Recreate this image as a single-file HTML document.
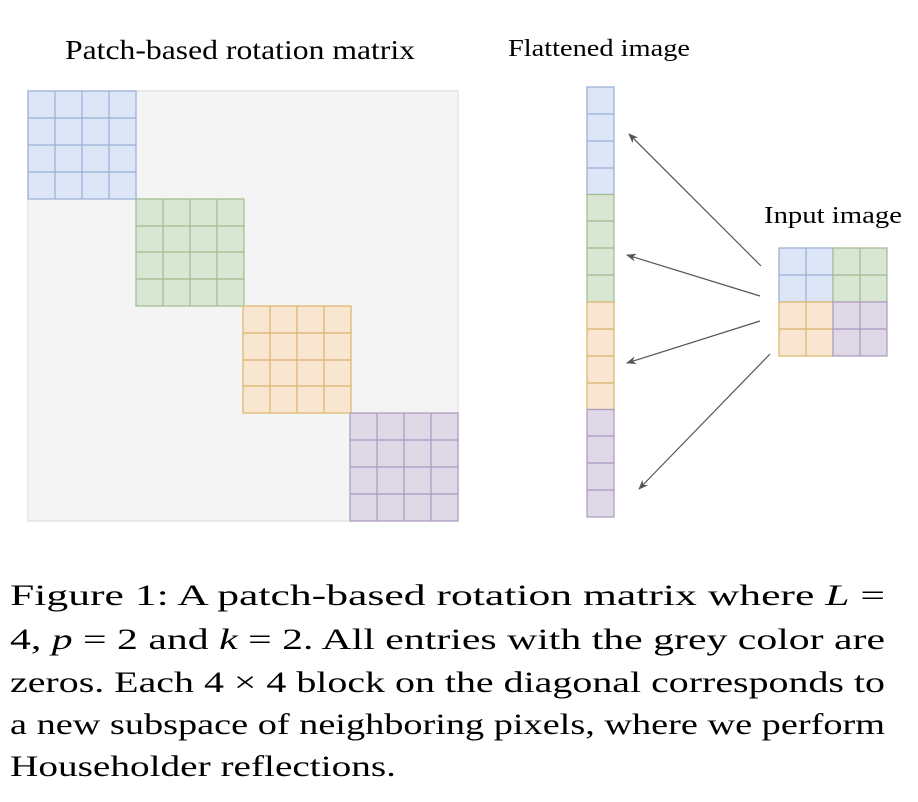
<!DOCTYPE html>
<html><head><meta charset="utf-8"><style>
html,body{margin:0;padding:0;background:#fff;}
svg{display:block;}
text{font-family:"Liberation Serif",serif;fill:#000;}
</style></head><body>
<svg width="918" height="802" viewBox="0 0 918 802" xmlns="http://www.w3.org/2000/svg">
<defs>
<marker id="ah" markerWidth="10" markerHeight="8" refX="9" refY="4" orient="auto" markerUnits="userSpaceOnUse">
<path d="M0,0 L10,4 L0,8 L3,4 z" fill="#555"/>
</marker>
</defs>
<text x="65" y="59" font-size="27" textLength="350" lengthAdjust="spacingAndGlyphs">Patch-based rotation matrix</text>
<text x="508" y="56" font-size="24" textLength="182" lengthAdjust="spacingAndGlyphs">Flattened image</text>
<text x="764" y="223" font-size="24" textLength="138" lengthAdjust="spacingAndGlyphs">Input image</text>
<rect x="28" y="91" width="430" height="430" fill="#f4f4f4" stroke="#e3e3e3" stroke-width="1.5"/>
<g stroke-width="1.2">
<g fill="#dce6f7" stroke="#9aaed6">
<rect x="28" y="91" width="108" height="108"/>
<path d="M55 91V199M82 91V199M109 91V199M28 118H136M28 145H136M28 172H136"/>
</g>
<g fill="#dae6d4" stroke="#9fbb8e">
<rect x="136" y="199" width="108" height="107"/>
<path d="M163 199V306M190 199V306M217 199V306M136 226H244M136 252H244M136 279H244"/>
</g>
<g fill="#f8e6d1" stroke="#dcb46a">
<rect x="243" y="306" width="108" height="107"/>
<path d="M270 306V413M297 306V413M324 306V413M243 333H351M243 360H351M243 386H351"/>
</g>
<g fill="#dfd8e6" stroke="#a999c0">
<rect x="350" y="413" width="108" height="108"/>
<path d="M377 413V521M404 413V521M431 413V521M350 440H458M350 467H458M350 494H458"/>
</g>
<g fill="#dce6f7" stroke="#9aaed6"><rect x="587" y="87" width="27" height="107.5"/><path d="M587 114H614M587 141H614M587 168H614"/></g>
<g fill="#dae6d4" stroke="#9fbb8e"><rect x="587" y="194.5" width="27" height="107.5"/><path d="M587 221H614M587 248H614M587 275H614"/></g>
<g fill="#f8e6d1" stroke="#dcb46a"><rect x="587" y="302" width="27" height="107.5"/><path d="M587 329H614M587 356H614M587 383H614"/></g>
<g fill="#dfd8e6" stroke="#a999c0"><rect x="587" y="409.5" width="27" height="107.5"/><path d="M587 436H614M587 463H614M587 490H614"/></g>
<g fill="#dce6f7" stroke="#9aaed6"><rect x="779" y="248" width="54" height="54"/><path d="M806 248V302M779 275H833"/></g>
<g fill="#dae6d4" stroke="#9fbb8e"><rect x="833" y="248" width="54" height="54"/><path d="M860 248V302M833 275H887"/></g>
<g fill="#f8e6d1" stroke="#dcb46a"><rect x="779" y="302" width="54" height="54"/><path d="M806 302V356M779 329H833"/></g>
<g fill="#dfd8e6" stroke="#a999c0"><rect x="833" y="302" width="54" height="54"/><path d="M860 302V356M833 329H887"/></g>
</g>
<g stroke="#555" stroke-width="1.2" fill="none" marker-end="url(#ah)">
<line x1="761" y1="266" x2="629" y2="134"/>
<line x1="760" y1="296" x2="627" y2="255"/>
<line x1="760" y1="321" x2="627" y2="363"/>
<line x1="770" y1="354" x2="639" y2="489"/>
</g>
<g font-size="30">
<text x="10" y="605" textLength="875" lengthAdjust="spacingAndGlyphs">Figure 1:  A patch-based rotation matrix where <tspan font-style="italic">L</tspan> =</text>
<text x="10" y="649" textLength="875" lengthAdjust="spacingAndGlyphs">4, <tspan font-style="italic">p</tspan> = 2 and <tspan font-style="italic">k</tspan> = 2.  All entries with the grey color are</text>
<text x="10" y="692" textLength="875" lengthAdjust="spacingAndGlyphs">zeros.  Each 4 × 4 block on the diagonal corresponds to</text>
<text x="10" y="734" textLength="875" lengthAdjust="spacingAndGlyphs">a new subspace of neighboring pixels, where we perform</text>
<text x="10" y="776" textLength="386" lengthAdjust="spacingAndGlyphs">Householder reflections.</text>
</g>
</svg>
</body></html>
